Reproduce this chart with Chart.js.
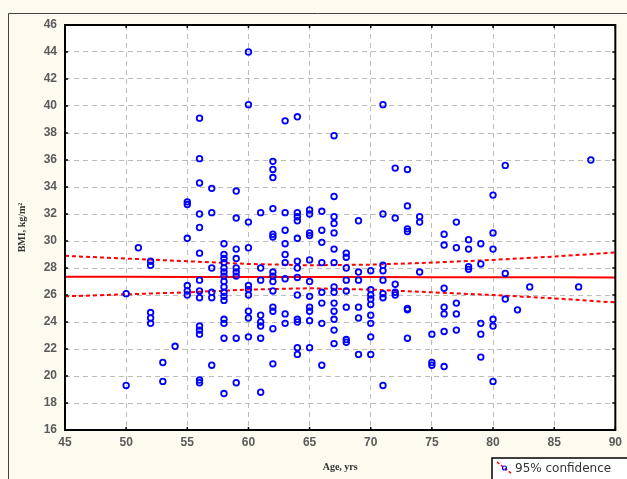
<!DOCTYPE html>
<html>
<head>
<meta charset="utf-8">
<script src="https://cdn.jsdelivr.net/npm/chart.js@4"></script>
<style>
  html, body { margin: 0; padding: 0; background: #fffaf0; }
  #wrap { width: 627px; height: 479px; }
</style>
</head>
<body>
<div id="wrap"><canvas id="c" width="627" height="479"></canvas></div>
<script>
// ---- data ----
const ageGroups = [50,51,52,53,54,55,56,57,58,59,60,61,62,63,64,65,66,67,68,69,70,71,72,73,74,75,76,77,78,79,80,81,82,83,87,88];
const bmiByAge = [
  [26.1, 19.3],
  [29.5],
  [28.5, 28.2, 24.7, 24.3, 23.9],
  [21.0, 19.6],
  [22.2],
  [32.9, 32.7, 30.2, 26.7, 26.3, 26.0],
  [39.1, 36.1, 34.3, 32.0, 31.0, 29.1, 27.1, 26.3, 25.8, 23.7, 23.4, 23.1, 19.7, 19.5],
  [33.9, 32.1, 28.0, 26.2, 25.8, 20.8],
  [29.8, 29.0, 28.7, 28.4, 28.0, 27.7, 27.4, 27.0, 26.6, 26.2, 25.9, 25.6, 24.2, 23.9, 22.8, 18.7],
  [33.7, 31.7, 29.4, 28.7, 28.0, 27.7, 27.4, 22.8, 19.5],
  [44.0, 40.1, 31.4, 29.5, 26.7, 26.4, 26.0, 24.8, 24.3, 22.9],
  [32.1, 28.0, 27.1, 24.5, 24.0, 23.7, 22.8, 18.8],
  [35.9, 35.3, 34.7, 32.4, 30.5, 30.3, 27.7, 27.4, 27.0, 26.3, 25.1, 24.8, 23.5, 20.9],
  [38.9, 32.1, 30.8, 29.8, 29.0, 28.4, 27.2, 24.6, 23.9],
  [39.2, 32.1, 31.8, 31.5, 30.2, 28.5, 28.0, 27.3, 26.0, 24.2, 24.0, 22.1, 21.6],
  [32.3, 32.0, 30.6, 30.4, 28.6, 27.0, 25.9, 25.1, 24.8, 24.1, 22.1],
  [32.2, 30.8, 29.9, 28.4, 26.2, 25.4, 23.9, 20.8],
  [37.8, 33.3, 31.8, 31.3, 30.6, 29.4, 28.4, 26.6, 26.2, 25.4, 24.8, 24.2, 23.4, 22.4],
  [29.1, 28.8, 28.0, 27.1, 26.3, 25.1, 22.7, 22.5],
  [31.5, 27.7, 27.1, 25.1, 24.3, 21.6],
  [27.8, 26.4, 26.0, 25.7, 25.3, 24.5, 23.9, 22.9, 21.6],
  [40.1, 32.0, 28.2, 27.8, 27.1, 26.1, 25.8, 19.3],
  [35.4, 31.7, 26.8, 26.2, 26.0],
  [35.3, 32.6, 30.9, 30.7, 25.0, 24.9, 22.8],
  [31.8, 31.4, 27.7],
  [23.1, 21.0, 20.8],
  [30.5, 29.7, 26.5, 25.1, 24.6, 23.3, 20.7],
  [31.4, 29.5, 25.4, 24.6, 23.4],
  [30.1, 29.4, 28.1, 27.9],
  [29.8, 28.3, 23.9, 23.1, 21.4],
  [33.4, 30.6, 29.4, 24.2, 23.7, 19.6],
  [35.6, 27.6, 25.7],
  [24.9],
  [26.6],
  [26.6],
  [36.0]
];
const lineAges  = [45, 50, 55, 60, 65, 70, 75, 80, 85, 90];
const fitLine   = [27.35, 27.35, 27.34, 27.34, 27.33, 27.33, 27.32, 27.32, 27.31, 27.30];
const upperConf = [28.90, 28.70, 28.50, 28.30, 28.20, 28.25, 28.40, 28.60, 28.85, 29.15];
const lowerConf = [25.90, 26.05, 26.20, 26.40, 26.50, 26.40, 26.20, 26.00, 25.75, 25.45];
const xTicks = [45, 50, 55, 60, 65, 70, 75, 80, 85, 90];
const yTicks = [16, 18, 20, 22, 24, 26, 28, 30, 32, 34, 36, 38, 40, 42, 44, 46];
const xTitle = 'Age, yrs';
const yTitle = 'BMI, kg/m\u00B2';
const legendLabel = '95% confidence';

// ---- build datasets ----
const points = [];
ageGroups.forEach((a, i) => bmiByAge[i].forEach(v => points.push({x: a, y: v})));
const toLine = arr => lineAges.map((a, i) => ({x: a, y: arr[i]}));

const PLOT = {left: 65, top: 25, right: 618, bottom: 430};

const framePlugin = {
  id: 'frame',
  beforeDraw(chart) {
    const ctx = chart.ctx, a = chart.chartArea;
    ctx.save();
    ctx.fillStyle = '#fffaf0';
    ctx.fillRect(0, 0, chart.width, chart.height);
    ctx.strokeStyle = '#444';
    ctx.lineWidth = 1;
    ctx.beginPath();
    ctx.moveTo(8.5, chart.height);
    ctx.lineTo(8.5, 13.5);
    ctx.lineTo(chart.width, 13.5);
    ctx.stroke();
    ctx.fillStyle = '#ffffff';
    ctx.fillRect(a.left, a.top, a.right - a.left, a.bottom - a.top);
    ctx.restore();
  },
  afterDraw(chart) {
    const ctx = chart.ctx, a = chart.chartArea;
    const xs = chart.scales.x, ys = chart.scales.y;
    ctx.save();
    ctx.strokeStyle = '#000';
    ctx.lineWidth = 2;
    ctx.strokeRect(a.left, a.top, a.right - a.left, a.bottom - a.top);
    ctx.lineWidth = 1.5;
    ctx.beginPath();
    xTicks.forEach(t => {
      const px = xs.getPixelForValue(t);
      ctx.moveTo(px, a.top); ctx.lineTo(px, a.top + 3);
      ctx.moveTo(px, a.bottom); ctx.lineTo(px, a.bottom - 3);
    });
    yTicks.forEach(t => {
      const py = ys.getPixelForValue(t);
      ctx.moveTo(a.left, py); ctx.lineTo(a.left + 3, py);
      ctx.moveTo(a.right, py); ctx.lineTo(a.right - 3, py);
    });
    ctx.stroke();

    // legend box
    const lx = 492, ly = 458;
    ctx.fillStyle = '#ffffff';
    ctx.fillRect(lx, ly, chart.width - lx + 2, chart.height - ly + 2);
    ctx.strokeStyle = '#000';
    ctx.lineWidth = 1.5;
    ctx.strokeRect(lx, ly, chart.width - lx + 5, chart.height - ly + 5);
    ctx.strokeStyle = '#ff0000';
    ctx.lineWidth = 1.5;
    ctx.setLineDash([3, 2]);
    ctx.beginPath();
    ctx.moveTo(497, 462); ctx.lineTo(512, 474);
    ctx.stroke();
    ctx.setLineDash([]);
    ctx.strokeStyle = '#0000ff';
    ctx.lineWidth = 1.2;
    ctx.beginPath();
    ctx.arc(504.5, 468, 2, 0, Math.PI * 2);
    ctx.stroke();
    ctx.fillStyle = '#333';
    ctx.font = '12px "DejaVu Sans", Verdana, sans-serif';
    ctx.textBaseline = 'middle';
    ctx.textAlign = 'left';
    ctx.fillText(legendLabel, 515, 468.5);
    ctx.restore();
  }
};

const tickFont = { family: '"Liberation Sans", Arial, sans-serif', size: 12, weight: 'bold' };

new Chart(document.getElementById('c'), {
  type: 'scatter',
  data: {
    datasets: [
      {
        label: 'BMI',
        data: points,
        pointStyle: 'circle',
        pointRadius: 2.8,
        pointBorderWidth: 1.8,
        pointBorderColor: '#0000ff',
        pointBackgroundColor: 'rgba(255,255,255,0)',
        showLine: false,
        order: 0
      },
      {
        label: 'fit',
        data: toLine(fitLine),
        showLine: true,
        borderColor: '#ff0000',
        borderWidth: 2,
        pointRadius: 0,
        order: 1
      },
      {
        label: 'upper',
        data: toLine(upperConf),
        showLine: true,
        borderColor: '#ff0000',
        borderWidth: 2,
        borderDash: [4, 3],
        pointRadius: 0,
        order: 1
      },
      {
        label: 'lower',
        data: toLine(lowerConf),
        showLine: true,
        borderColor: '#ff0000',
        borderWidth: 2,
        borderDash: [4, 3],
        pointRadius: 0,
        order: 1
      }
    ]
  },
  options: {
    responsive: false,
    animation: false,
    devicePixelRatio: 1,
    layout: { padding: { left: 0, top: PLOT.top, right: 627 - PLOT.right, bottom: 0 } },
    plugins: { legend: { display: false }, tooltip: { enabled: false } },
    scales: {
      x: {
        type: 'linear',
        min: 45, max: 90,
        afterBuildTicks: s => { s.ticks = xTicks.map(v => ({value: v})); },
        afterFit: s => { s.height = 479 - PLOT.bottom; },
        grid: { color: '#bdbdbd', lineWidth: 1, drawTicks: false },
        border: { display: false, dash: [5, 4] },
        ticks: { padding: 5, color: '#5a5a5a', font: tickFont },
        title: { display: true, text: xTitle, color: '#333', padding: { top: 0, bottom: 6 },
                 font: { family: '"Liberation Serif", "Times New Roman", serif', size: 10, weight: 'bold' } }
      },
      y: {
        type: 'linear',
        min: 16, max: 46,
        afterBuildTicks: s => { s.ticks = yTicks.map(v => ({value: v})); },
        afterFit: s => { s.width = PLOT.left; },
        grid: { color: '#bdbdbd', lineWidth: 1, drawTicks: false },
        border: { display: false, dash: [5, 4] },
        ticks: { padding: 8, color: '#5a5a5a', font: tickFont },
        title: { display: true, text: yTitle, color: '#333', padding: { top: 16, bottom: 0 },
                 font: { family: '"Liberation Serif", "Times New Roman", serif', size: 10, weight: 'bold' } }
      }
    }
  },
  plugins: [framePlugin]
});
</script>
</body>
</html>
